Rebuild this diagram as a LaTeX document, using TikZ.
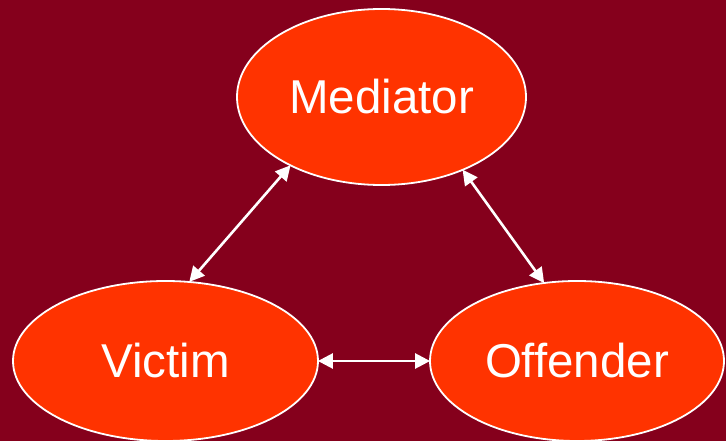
\documentclass[tikz,border=0pt]{standalone}
\usepackage{fontspec}
\setmainfont{Liberation Sans}
\usetikzlibrary{shapes.geometric,arrows.meta}
\definecolor{bgred}{HTML}{85001C}
\definecolor{nodefill}{HTML}{FF3300}
\tikzset{
  oval/.style={ellipse, draw=white, line width=1.8pt, fill=nodefill, inner sep=0pt,
    text=white, font=\fontsize{47.5}{52}\selectfont},
  link/.style={draw=white, line width=2.6pt, {Triangle[length=15pt,width=15pt]}-{Triangle[length=15pt,width=15pt]}, shorten <=-1pt, shorten >=-1pt}
}
\begin{document}
\begin{tikzpicture}[x=1pt,y=-1pt]
\fill[bgred] (0,0) rectangle (726,441);
\useasboundingbox (0,0) rectangle (726,441);
\node[oval, minimum width=289pt, minimum height=176pt] (med) at (381.5,97) {Mediator};
\node[oval, minimum width=305pt, minimum height=160pt] (vic) at (165.5,361) {Victim};
\node[oval, minimum width=294pt, minimum height=160pt] (off) at (577,361) {Offender};
\draw[link] (med.217) -- (vic.73);
\draw[link] (med.318) -- (off.113.6);
\draw[link] (vic.0) -- (off.180);
\end{tikzpicture}
\end{document}
